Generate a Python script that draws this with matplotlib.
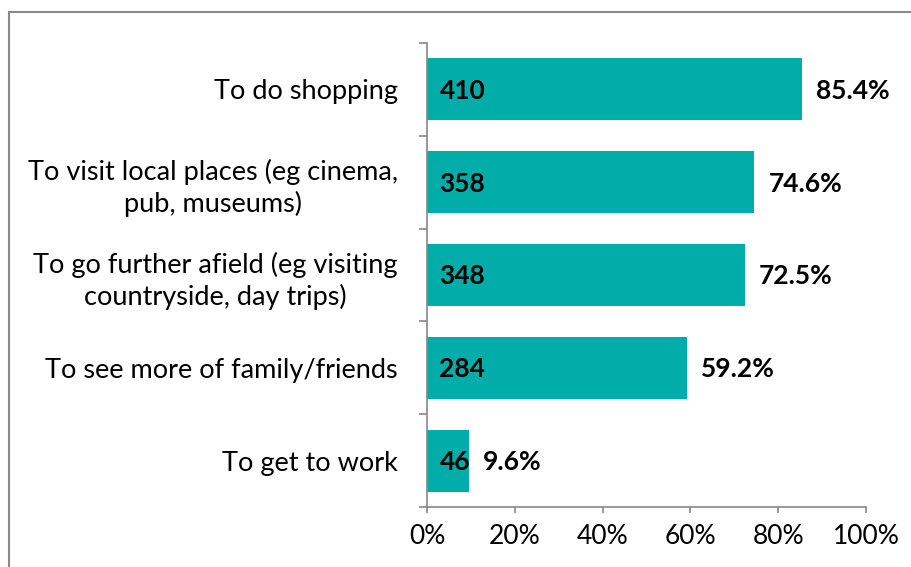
import numpy as np
import matplotlib
matplotlib.use('Agg')
from matplotlib import pyplot as plt
from matplotlib.patches import Rectangle

# Данные (сверху вниз)
categories = ['To do shopping',
              'To visit local places (eg cinema,\npub, museums)',
              'To go further afield (eg visiting\ncountryside, day trips)',
              'To see more of family/friends',
              'To get to work']
counts = [410, 358, 348, 284, 46]
percents = [85.4, 74.6, 72.5, 59.2, 9.6]
tick_values = [0, 20, 40, 60, 80, 100]
tick_labels = ['0%', '20%', '40%', '60%', '80%', '100%']

plt.rcParams['font.family'] = ['Lato', 'DejaVu Sans']

teal = '#00ADA8'
grey = '#878787'
fs = 19

fig = plt.figure(figsize=(9.12, 5.67), dpi=100)
ax = fig.add_axes([427 / 912, 1 - 507 / 567, (866 - 427) / 912, (507 - 43) / 567])

y = np.arange(len(categories))
ax.barh(y, percents, height=0.67, color=teal)
ax.set_ylim(len(categories) - 0.5, -0.5)
ax.set_xlim(0, 100)

# подписи: количество внутри, процент справа
for yi, c, p in zip(y, counts, percents):
    ax.annotate(str(c), (0, yi), xytext=(9, -1), textcoords='offset points',
                va='center', ha='left', fontsize=fs, fontweight='bold')
    ax.annotate(f'{p}%', (p, yi), xytext=(10, -1), textcoords='offset points',
                va='center', ha='left', fontsize=fs, fontweight='bold')

ax.set_yticks(y)
ax.set_yticklabels(categories, fontsize=fs + 0.5, multialignment='center',
                   linespacing=1.3)
ax.tick_params(axis='y', which='major', length=0, pad=21)
ax.set_yticks(np.arange(len(categories) + 1) - 0.5, minor=True)
ax.tick_params(axis='y', which='minor', length=6, color=grey, width=1.2)

ax.set_xticks(tick_values)
ax.set_xticklabels(tick_labels, fontsize=fs)
ax.tick_params(axis='x', length=4, color=grey, width=1.2, pad=8)

for s in ['top', 'right']:
    ax.spines[s].set_visible(False)
for s in ['left', 'bottom']:
    ax.spines[s].set_color(grey)
    ax.spines[s].set_linewidth(1.2)

# рамка вокруг рисунка
fig.patches.append(Rectangle((9 / 912, -0.1), 1.2, 1 - 12 / 567 + 0.1,
                             transform=fig.transFigure, fill=False,
                             edgecolor='#8A8A8A', linewidth=1.5))

fig.savefig('out.png', dpi=100)
